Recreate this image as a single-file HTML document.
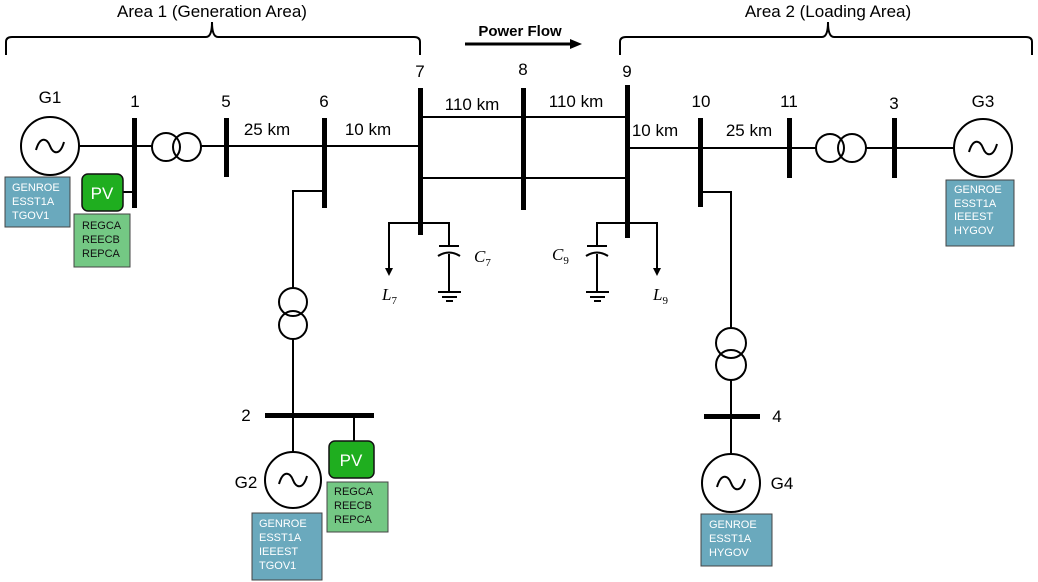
<!DOCTYPE html>
<html><head><meta charset="utf-8"><style>
html,body{margin:0;padding:0;background:#fff;}
svg{display:block;font-family:"Liberation Sans",Arial,sans-serif;}
</style></head><body>
<svg width="1038" height="582" viewBox="0 0 1038 582" xmlns="http://www.w3.org/2000/svg">
<g fill="none" stroke="#000" stroke-width="2">
<path d="M6,55 V42 Q6,37 12,37 H206 Q212,37 212,22 Q212,37 218,37 H414 Q420,37 420,42 V55"/>
<path d="M620,55 V42 Q620,37 626,37 H822 Q828,37 828,22 Q828,37 834,37 H1026 Q1032,37 1032,42 V55"/>
<line x1="79" y1="146" x2="152" y2="146"/>
<circle cx="166" cy="147" r="14"/><circle cx="187" cy="147" r="14"/>
<line x1="201" y1="146" x2="420" y2="146"/>
<line x1="420" y1="117" x2="627" y2="117"/>
<line x1="420" y1="178" x2="627" y2="178"/>
<line x1="627" y1="148" x2="789" y2="148"/>
<circle cx="830" cy="148" r="14"/><circle cx="852" cy="148" r="14"/>
<line x1="789" y1="148" x2="816" y2="148"/>
<line x1="866" y1="148" x2="954" y2="148"/>
<line x1="123" y1="192" x2="134" y2="192"/>
<polyline points="324,191 293,191 293,288"/>
<circle cx="293" cy="302" r="14"/><circle cx="293" cy="325" r="14"/>
<line x1="293" y1="339" x2="293" y2="452"/>
<line x1="354" y1="415" x2="354" y2="441"/>
<polyline points="700,192 731,192 731,328"/>
<circle cx="731" cy="343" r="15"/><circle cx="731" cy="365" r="15"/>
<line x1="731" y1="380" x2="731" y2="454"/>
<polyline points="389,270 389,223 449,223 449,246"/>
<line x1="449" y1="254" x2="449" y2="292"/>
<line x1="438" y1="292" x2="461" y2="292"/><line x1="442" y1="297" x2="457" y2="297"/><line x1="446" y1="301" x2="453" y2="301"/>
<line x1="439" y1="246" x2="459" y2="246"/>
<path d="M438,256 Q449,249 460,256"/>
<polyline points="657,270 657,223 597,223 597,246"/>
<line x1="597" y1="254" x2="597" y2="292"/>
<line x1="586" y1="292" x2="609" y2="292"/><line x1="590" y1="297" x2="605" y2="297"/><line x1="594" y1="301" x2="601" y2="301"/>
<line x1="587" y1="246" x2="607" y2="246"/>
<path d="M586,256 Q597,249 608,256"/>
<circle cx="50" cy="146" r="29"/>
<circle cx="983" cy="148" r="29"/>
<circle cx="293" cy="480" r="28"/>
<circle cx="731" cy="483" r="29"/>
<path d="M36,150 C40,136 47,138 50,146 C53,154 60,156 64,142"/>
<path d="M969,152 C973,138 980,140 983,148 C986,156 993,158 997,144"/>
<path d="M279,484 C283,470 290,472 293,480 C296,488 303,490 307,476"/>
<path d="M717,487 C721,473 728,475 731,483 C734,491 741,493 745,479"/>
</g>
<polygon points="385,268 393,268 389,276" fill="#000"/>
<polygon points="653,268 661,268 657,276" fill="#000"/>
<line x1="465" y1="44" x2="572" y2="44" stroke="#000" stroke-width="3"/>
<polygon points="570,39 582,44 570,49" fill="#000"/>
<g fill="#000">
<rect x="132" y="118" width="5" height="90"/>
<rect x="224" y="118" width="5" height="59"/>
<rect x="322" y="118" width="5" height="90"/>
<rect x="418" y="88" width="5" height="147"/>
<rect x="521" y="88" width="5" height="122"/>
<rect x="625" y="85" width="5" height="153"/>
<rect x="698" y="118" width="5" height="89"/>
<rect x="787" y="118" width="5" height="60"/>
<rect x="892" y="118" width="5" height="60"/>
<rect x="265" y="413" width="109" height="5"/>
<rect x="704" y="414" width="56" height="5"/>
</g>
<g stroke="#444" stroke-width="1">
<rect x="5" y="177" width="65" height="50" fill="#6aa9bd"/>
<rect x="946" y="180" width="68" height="66" fill="#6aa9bd"/>
<rect x="252" y="513" width="70" height="67" fill="#6aa9bd"/>
<rect x="701" y="514" width="71" height="52" fill="#6aa9bd"/>
<rect x="74" y="214" width="56" height="53" fill="#74c884"/>
<rect x="327" y="482" width="61" height="50" fill="#74c884"/>
</g>
<rect x="82" y="174" width="41" height="37" rx="6" fill="#1fae1f" stroke="#111" stroke-width="1.5"/>
<rect x="329" y="441" width="45" height="37" rx="6" fill="#1fae1f" stroke="#111" stroke-width="1.5"/>
<g font-size="17" fill="#fff" text-anchor="middle">
<text x="102" y="199">PV</text><text x="351" y="466">PV</text>
</g>
<g font-size="11" fill="#fff">
<text x="12" y="191">GENROE</text><text x="12" y="205">ESST1A</text><text x="12" y="219">TGOV1</text>
<text x="954" y="193">GENROE</text><text x="954" y="207">ESST1A</text><text x="954" y="220">IEEEST</text><text x="954" y="234">HYGOV</text>
<text x="259" y="527">GENROE</text><text x="259" y="541">ESST1A</text><text x="259" y="555">IEEEST</text><text x="259" y="569">TGOV1</text>
<text x="709" y="528">GENROE</text><text x="709" y="542">ESST1A</text><text x="709" y="556">HYGOV</text>
</g>
<g font-size="11" fill="#111">
<text x="82" y="229">REGCA</text><text x="82" y="243">REECB</text><text x="82" y="257">REPCA</text>
<text x="334" y="495">REGCA</text><text x="334" y="509">REECB</text><text x="334" y="523">REPCA</text>
</g>
<g font-size="17" fill="#000" text-anchor="middle">
<text x="212" y="17">Area 1 (Generation Area)</text>
<text x="828" y="17">Area 2 (Loading Area)</text>
<text x="520" y="36" font-weight="bold" font-size="15">Power Flow</text>
<text x="50" y="103">G1</text><text x="983" y="107">G3</text>
<text x="135" y="107">1</text><text x="226" y="107">5</text><text x="324" y="107">6</text>
<text x="420" y="77">7</text><text x="523" y="75">8</text><text x="627" y="77">9</text>
<text x="701" y="107">10</text><text x="789" y="107">11</text><text x="894" y="109">3</text>
<text x="267" y="135">25 km</text><text x="368" y="135">10 km</text>
<text x="472" y="110">110 km</text><text x="576" y="107">110 km</text>
<text x="655" y="136">10 km</text><text x="749" y="136">25 km</text>
<text x="246" y="421">2</text><text x="777" y="422">4</text>
<text x="246" y="488">G2</text><text x="782" y="489">G4</text>
</g>
<g font-family="Liberation Serif,serif" font-style="italic" font-size="17" fill="#000">
<text x="382" y="300">L<tspan font-size="11" dy="4" font-style="normal">7</tspan></text>
<text x="474" y="262">C<tspan font-size="11" dy="4" font-style="normal">7</tspan></text>
<text x="552" y="260">C<tspan font-size="11" dy="4" font-style="normal">9</tspan></text>
<text x="653" y="300">L<tspan font-size="11" dy="4" font-style="normal">9</tspan></text>
</g>
</svg>
</body></html>
